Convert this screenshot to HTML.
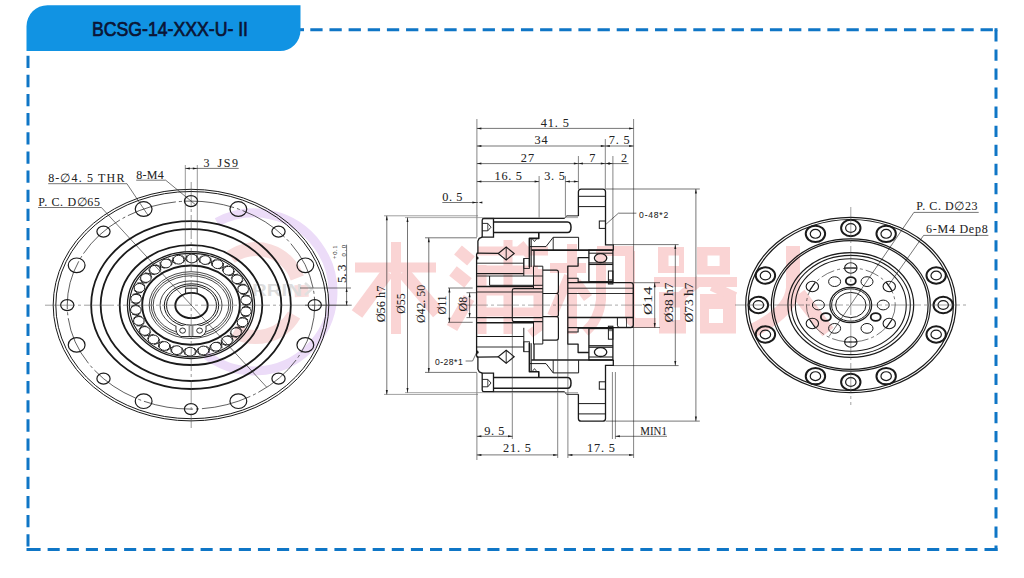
<!DOCTYPE html><html><head><meta charset="utf-8"><title>BCSG-14-XXX-U-II</title><style>html,body{margin:0;padding:0;background:#fff}body{width:1024px;height:578px;overflow:hidden;position:relative}svg{position:absolute;left:0;top:0;display:block}</style></head><body>
<svg width="1024" height="578" viewBox="0 0 1024 578">
<rect x="0" y="0" width="1024" height="578" fill="#ffffff"/>
<g stroke="#fad4d4" fill="none" stroke-linecap="butt" stroke-width="10">
<path d="M355 267.5 H436 M396 242 V334" stroke-width="10"/><path d="M388 272 L357 314 M403 272 L438 313" stroke-width="13"/>
<path d="M458 250 L471 261 M453 271 L468 283 M452 328 L469 298" stroke-width="12"/>
<path d="M478 251 H548 M482 265 V334 M538 269 V328 L530 334 M482 270 H538 M482 291 H538 M482 312 H538 M508 240 V334 M520 244 L530 256" stroke-width="9"/>
<path d="M550 268 H586 M572 244 V334 M569 276 L552 316 M576 282 L588 298" stroke-width="10"/>
<path d="M597 251 H634 M601 249 V300 Q599 320 585 332 M630 251 V316 Q630 323 638 323 H656" stroke-width="10"/>
</g>
<path fill="#fad4d4" fill-rule="evenodd" d="M658 247 H684 V273 H658 Z M668.5 255.6 V266 H679 V255.6 Z M697 247 H730 V274.6 H697 Z M707.5 255.6 V266 H719.6 V255.6 Z M659 292 H686 V333.4 H659 Z M669.6 307.5 V320 H680 V307.5 Z M700 294 H736 V333.4 H700 Z M709 309 V323 H723 V309 Z M654 277 H737 V287 H654 Z"/>
<g stroke="#fad4d4" fill="none" stroke-linecap="butt">
<path d="M700 280 L679 298 M712 286 L735 297" stroke-width="10"/>
<path d="M793 246 V288 Q791 312 752 331 M799 294 L828 332" stroke-width="14"/>
</g>
<path d="M216.9 222.2 A79 79 0 1 1 205.4 354.3" fill="none" stroke="#ecdcf8" stroke-width="9"/>
<path d="M230.8 257.0 A44 44 0 0 1 297.3 278.0 M301.3 285.0 L301.8 297.0 M294.1 315.0 A44 44 0 0 1 234.0 331.1" fill="none" stroke="#f8dcdc" stroke-width="14"/>
<text x="252" y="296" font-family="Liberation Sans" font-weight="bold" font-size="16" fill="#dcdcdc" textLength="50" lengthAdjust="spacingAndGlyphs">RRIN</text>
<path d="M305 283 L312 289 L305 295" fill="none" stroke="#e0e0e0" stroke-width="2.5"/>
<g stroke="#0f76c6" stroke-width="3" fill="none">
<line x1="310.3" y1="29.7" x2="997.5" y2="29.7" stroke-dasharray="12.3 6.85"/>
<line x1="996" y1="30.3" x2="996" y2="551" stroke-dasharray="11.3 7.78"/>
<line x1="28.5" y1="549.5" x2="997.5" y2="549.5" stroke-dasharray="12.1 7.02"/>
<line x1="28" y1="55.7" x2="28" y2="551" stroke-dasharray="12.3 6.84"/>
</g>
<rect x="300" y="28.2" width="4" height="3" fill="#0f76c6"/>
<rect x="994.5" y="28.2" width="3" height="3" fill="#0f76c6"/>
<rect x="994.5" y="548" width="3" height="3" fill="#0f76c6"/>
<rect x="26.5" y="548" width="3" height="3" fill="#0f76c6"/>
<path d="M26.5 51 V26.2 A21 21 0 0 1 47.5 5.2 H300.5 V30.5 A20.5 20.5 0 0 1 280 51 Z" fill="#1193e3"/>
<text x="92" y="35.8" font-family="Liberation Sans" font-size="20" fill="#0b1535" stroke="#0b1535" stroke-width="0.7" textLength="156" lengthAdjust="spacingAndGlyphs">BCSG-14-XXX-U- II</text>
<ellipse cx="191.00" cy="305.10" rx="137.80" ry="115.80" fill="none" stroke="#1a1a1a" stroke-width="1.0" />
<ellipse cx="191.00" cy="305.10" rx="135.18" ry="113.60" fill="none" stroke="#1a1a1a" stroke-width="1.0" />
<ellipse cx="191.00" cy="305.10" rx="123.76" ry="104.00" fill="none" stroke="#1a1a1a" stroke-width="0.7" stroke-dasharray="50 3 3 3"/>
<ellipse cx="191.00" cy="201.10" rx="6.60" ry="5.50" fill="none" stroke="#1a1a1a" stroke-width="1.2" />
<ellipse cx="143.64" cy="209.02" rx="8.40" ry="7.30" fill="none" stroke="#1a1a1a" stroke-width="1.2" />
<ellipse cx="103.49" cy="231.56" rx="6.60" ry="5.50" fill="none" stroke="#1a1a1a" stroke-width="1.2" />
<ellipse cx="76.66" cy="265.30" rx="8.40" ry="7.30" fill="none" stroke="#1a1a1a" stroke-width="1.2" />
<ellipse cx="67.24" cy="305.10" rx="6.60" ry="5.50" fill="none" stroke="#1a1a1a" stroke-width="1.2" />
<ellipse cx="76.66" cy="344.90" rx="8.40" ry="7.30" fill="none" stroke="#1a1a1a" stroke-width="1.2" />
<ellipse cx="103.49" cy="378.64" rx="6.60" ry="5.50" fill="none" stroke="#1a1a1a" stroke-width="1.2" />
<ellipse cx="143.64" cy="401.18" rx="8.40" ry="7.30" fill="none" stroke="#1a1a1a" stroke-width="1.2" />
<ellipse cx="191.00" cy="409.10" rx="6.60" ry="5.50" fill="none" stroke="#1a1a1a" stroke-width="1.2" />
<ellipse cx="238.36" cy="401.18" rx="8.40" ry="7.30" fill="none" stroke="#1a1a1a" stroke-width="1.2" />
<ellipse cx="278.51" cy="378.64" rx="6.60" ry="5.50" fill="none" stroke="#1a1a1a" stroke-width="1.2" />
<ellipse cx="305.34" cy="344.90" rx="8.40" ry="7.30" fill="none" stroke="#1a1a1a" stroke-width="1.2" />
<ellipse cx="314.76" cy="305.10" rx="6.60" ry="5.50" fill="none" stroke="#1a1a1a" stroke-width="1.2" />
<ellipse cx="305.34" cy="265.30" rx="8.40" ry="7.30" fill="none" stroke="#1a1a1a" stroke-width="1.2" />
<ellipse cx="278.51" cy="231.56" rx="6.60" ry="5.50" fill="none" stroke="#1a1a1a" stroke-width="1.2" />
<ellipse cx="238.36" cy="209.02" rx="8.40" ry="7.30" fill="none" stroke="#1a1a1a" stroke-width="1.2" />
<ellipse cx="191.00" cy="305.10" rx="99.84" ry="83.90" fill="none" stroke="#1a1a1a" stroke-width="1.8" />
<ellipse cx="191.00" cy="305.10" rx="90.32" ry="75.90" fill="none" stroke="#1a1a1a" stroke-width="1.8" />
<ellipse cx="191.00" cy="305.10" rx="71.28" ry="59.90" fill="none" stroke="#1a1a1a" stroke-width="1.8" />
<ellipse cx="191.00" cy="305.10" rx="63.55" ry="53.40" fill="none" stroke="#1a1a1a" stroke-width="1.3" />
<ellipse cx="191.00" cy="305.10" rx="61.52" ry="51.70" fill="none" stroke="#1a1a1a" stroke-width="1.1" />
<ellipse cx="246.15" cy="300.23" rx="5.30" ry="4.40" fill="none" stroke="#1a1a1a" stroke-width="1.0" />
<ellipse cx="243.16" cy="289.28" rx="5.30" ry="4.40" fill="none" stroke="#1a1a1a" stroke-width="1.0" />
<ellipse cx="237.14" cy="279.25" rx="5.30" ry="4.40" fill="none" stroke="#1a1a1a" stroke-width="1.0" />
<ellipse cx="228.44" cy="270.72" rx="5.30" ry="4.40" fill="none" stroke="#1a1a1a" stroke-width="1.0" />
<ellipse cx="217.56" cy="264.19" rx="5.30" ry="4.40" fill="none" stroke="#1a1a1a" stroke-width="1.0" />
<ellipse cx="205.14" cy="260.04" rx="5.30" ry="4.40" fill="none" stroke="#1a1a1a" stroke-width="1.0" />
<ellipse cx="191.89" cy="258.51" rx="5.30" ry="4.40" fill="none" stroke="#1a1a1a" stroke-width="1.0" />
<ellipse cx="178.60" cy="259.68" rx="5.30" ry="4.40" fill="none" stroke="#1a1a1a" stroke-width="1.0" />
<ellipse cx="166.02" cy="263.49" rx="5.30" ry="4.40" fill="none" stroke="#1a1a1a" stroke-width="1.0" />
<ellipse cx="154.90" cy="269.73" rx="5.30" ry="4.40" fill="none" stroke="#1a1a1a" stroke-width="1.0" />
<ellipse cx="145.88" cy="278.01" rx="5.30" ry="4.40" fill="none" stroke="#1a1a1a" stroke-width="1.0" />
<ellipse cx="139.47" cy="287.88" rx="5.30" ry="4.40" fill="none" stroke="#1a1a1a" stroke-width="1.0" />
<ellipse cx="136.07" cy="298.74" rx="5.30" ry="4.40" fill="none" stroke="#1a1a1a" stroke-width="1.0" />
<ellipse cx="135.85" cy="309.97" rx="5.30" ry="4.40" fill="none" stroke="#1a1a1a" stroke-width="1.0" />
<ellipse cx="138.84" cy="320.92" rx="5.30" ry="4.40" fill="none" stroke="#1a1a1a" stroke-width="1.0" />
<ellipse cx="144.86" cy="330.95" rx="5.30" ry="4.40" fill="none" stroke="#1a1a1a" stroke-width="1.0" />
<ellipse cx="153.56" cy="339.48" rx="5.30" ry="4.40" fill="none" stroke="#1a1a1a" stroke-width="1.0" />
<ellipse cx="164.44" cy="346.01" rx="5.30" ry="4.40" fill="none" stroke="#1a1a1a" stroke-width="1.0" />
<ellipse cx="176.86" cy="350.16" rx="5.30" ry="4.40" fill="none" stroke="#1a1a1a" stroke-width="1.0" />
<ellipse cx="190.11" cy="351.69" rx="5.30" ry="4.40" fill="none" stroke="#1a1a1a" stroke-width="1.0" />
<ellipse cx="203.40" cy="350.52" rx="5.30" ry="4.40" fill="none" stroke="#1a1a1a" stroke-width="1.0" />
<ellipse cx="215.98" cy="346.71" rx="5.30" ry="4.40" fill="none" stroke="#1a1a1a" stroke-width="1.0" />
<ellipse cx="227.10" cy="340.47" rx="5.30" ry="4.40" fill="none" stroke="#1a1a1a" stroke-width="1.0" />
<ellipse cx="236.12" cy="332.19" rx="5.30" ry="4.40" fill="none" stroke="#1a1a1a" stroke-width="1.0" />
<ellipse cx="242.53" cy="322.32" rx="5.30" ry="4.40" fill="none" stroke="#1a1a1a" stroke-width="1.0" />
<ellipse cx="245.93" cy="311.46" rx="5.30" ry="4.40" fill="none" stroke="#1a1a1a" stroke-width="1.0" />
<line x1="241.33" y1="297.32" x2="248.70" y2="291.72" stroke="#1a1a1a" stroke-width="0.9" />
<line x1="240.33" y1="293.66" x2="249.87" y2="296.00" stroke="#1a1a1a" stroke-width="0.9" />
<line x1="237.65" y1="287.43" x2="243.22" y2="280.51" stroke="#1a1a1a" stroke-width="0.9" />
<line x1="235.64" y1="284.08" x2="245.57" y2="284.43" stroke="#1a1a1a" stroke-width="0.9" />
<line x1="231.26" y1="278.56" x2="234.69" y2="270.72" stroke="#1a1a1a" stroke-width="0.9" />
<line x1="228.35" y1="275.71" x2="238.09" y2="274.05" stroke="#1a1a1a" stroke-width="0.9" />
<line x1="222.53" y1="271.23" x2="223.63" y2="262.93" stroke="#1a1a1a" stroke-width="0.9" />
<line x1="218.90" y1="269.05" x2="227.88" y2="265.48" stroke="#1a1a1a" stroke-width="0.9" />
<line x1="211.97" y1="265.88" x2="210.68" y2="257.60" stroke="#1a1a1a" stroke-width="0.9" />
<line x1="207.82" y1="264.49" x2="215.53" y2="259.22" stroke="#1a1a1a" stroke-width="0.9" />
<line x1="200.19" y1="262.80" x2="196.58" y2="255.02" stroke="#1a1a1a" stroke-width="0.9" />
<line x1="195.77" y1="262.29" x2="201.75" y2="255.62" stroke="#1a1a1a" stroke-width="0.9" />
<line x1="187.88" y1="262.18" x2="182.15" y2="255.35" stroke="#1a1a1a" stroke-width="0.9" />
<line x1="183.44" y1="262.57" x2="187.35" y2="254.89" stroke="#1a1a1a" stroke-width="0.9" />
<line x1="175.74" y1="264.06" x2="168.24" y2="258.58" stroke="#1a1a1a" stroke-width="0.9" />
<line x1="171.55" y1="265.33" x2="173.15" y2="257.09" stroke="#1a1a1a" stroke-width="0.9" />
<line x1="164.50" y1="268.32" x2="155.65" y2="264.51" stroke="#1a1a1a" stroke-width="0.9" />
<line x1="160.78" y1="270.40" x2="160.00" y2="262.07" stroke="#1a1a1a" stroke-width="0.9" />
<line x1="154.79" y1="274.71" x2="145.12" y2="272.79" stroke="#1a1a1a" stroke-width="0.9" />
<line x1="151.78" y1="277.48" x2="148.65" y2="269.56" stroke="#1a1a1a" stroke-width="0.9" />
<line x1="147.19" y1="282.88" x2="137.25" y2="282.96" stroke="#1a1a1a" stroke-width="0.9" />
<line x1="145.05" y1="286.17" x2="139.75" y2="279.11" stroke="#1a1a1a" stroke-width="0.9" />
<line x1="142.14" y1="292.33" x2="132.51" y2="294.41" stroke="#1a1a1a" stroke-width="0.9" />
<line x1="141.00" y1="295.96" x2="133.84" y2="290.17" stroke="#1a1a1a" stroke-width="0.9" />
<line x1="139.92" y1="302.53" x2="131.17" y2="306.48" stroke="#1a1a1a" stroke-width="0.9" />
<line x1="139.85" y1="306.28" x2="131.25" y2="302.10" stroke="#1a1a1a" stroke-width="0.9" />
<line x1="140.67" y1="312.88" x2="133.30" y2="318.48" stroke="#1a1a1a" stroke-width="0.9" />
<line x1="141.67" y1="316.54" x2="132.13" y2="314.20" stroke="#1a1a1a" stroke-width="0.9" />
<line x1="144.35" y1="322.77" x2="138.78" y2="329.69" stroke="#1a1a1a" stroke-width="0.9" />
<line x1="146.36" y1="326.12" x2="136.43" y2="325.77" stroke="#1a1a1a" stroke-width="0.9" />
<line x1="150.74" y1="331.64" x2="147.31" y2="339.48" stroke="#1a1a1a" stroke-width="0.9" />
<line x1="153.65" y1="334.49" x2="143.91" y2="336.15" stroke="#1a1a1a" stroke-width="0.9" />
<line x1="159.47" y1="338.97" x2="158.37" y2="347.27" stroke="#1a1a1a" stroke-width="0.9" />
<line x1="163.10" y1="341.15" x2="154.12" y2="344.72" stroke="#1a1a1a" stroke-width="0.9" />
<line x1="170.03" y1="344.32" x2="171.32" y2="352.60" stroke="#1a1a1a" stroke-width="0.9" />
<line x1="174.18" y1="345.71" x2="166.47" y2="350.98" stroke="#1a1a1a" stroke-width="0.9" />
<line x1="181.81" y1="347.40" x2="185.42" y2="355.18" stroke="#1a1a1a" stroke-width="0.9" />
<line x1="186.23" y1="347.91" x2="180.25" y2="354.58" stroke="#1a1a1a" stroke-width="0.9" />
<line x1="194.12" y1="348.02" x2="199.85" y2="354.85" stroke="#1a1a1a" stroke-width="0.9" />
<line x1="198.56" y1="347.63" x2="194.65" y2="355.31" stroke="#1a1a1a" stroke-width="0.9" />
<line x1="206.26" y1="346.14" x2="213.76" y2="351.62" stroke="#1a1a1a" stroke-width="0.9" />
<line x1="210.45" y1="344.87" x2="208.85" y2="353.11" stroke="#1a1a1a" stroke-width="0.9" />
<line x1="217.50" y1="341.88" x2="226.35" y2="345.69" stroke="#1a1a1a" stroke-width="0.9" />
<line x1="221.22" y1="339.80" x2="222.00" y2="348.13" stroke="#1a1a1a" stroke-width="0.9" />
<line x1="227.21" y1="335.49" x2="236.88" y2="337.41" stroke="#1a1a1a" stroke-width="0.9" />
<line x1="230.22" y1="332.72" x2="233.35" y2="340.64" stroke="#1a1a1a" stroke-width="0.9" />
<line x1="234.81" y1="327.32" x2="244.75" y2="327.24" stroke="#1a1a1a" stroke-width="0.9" />
<line x1="236.95" y1="324.03" x2="242.25" y2="331.09" stroke="#1a1a1a" stroke-width="0.9" />
<line x1="239.86" y1="317.87" x2="249.49" y2="315.79" stroke="#1a1a1a" stroke-width="0.9" />
<line x1="241.00" y1="314.24" x2="248.16" y2="320.03" stroke="#1a1a1a" stroke-width="0.9" />
<line x1="242.08" y1="307.67" x2="250.83" y2="303.72" stroke="#1a1a1a" stroke-width="0.9" />
<line x1="242.15" y1="303.92" x2="250.75" y2="308.10" stroke="#1a1a1a" stroke-width="0.9" />
<ellipse cx="191.00" cy="305.10" rx="48.80" ry="39.60" fill="none" stroke="#1a1a1a" stroke-width="1.9" />
<ellipse cx="191.00" cy="305.10" rx="41.80" ry="33.40" fill="none" stroke="#1a1a1a" stroke-width="0.8" />
<ellipse cx="191.00" cy="305.10" rx="39.80" ry="31.30" fill="none" stroke="#1a1a1a" stroke-width="0.8" />
<ellipse cx="191.00" cy="305.10" rx="37.80" ry="29.30" fill="none" stroke="#1a1a1a" stroke-width="0.8" />
<ellipse cx="191.00" cy="305.10" rx="31.00" ry="24.20" fill="none" stroke="#1a1a1a" stroke-width="0.8" />
<ellipse cx="191.50" cy="305.40" rx="27.20" ry="21.60" fill="none" stroke="#1a1a1a" stroke-width="1.0" />
<ellipse cx="191.50" cy="305.40" rx="25.00" ry="19.80" fill="none" stroke="#1a1a1a" stroke-width="1.0" />
<path d="M176 326 Q175 334 181 336.5 H201 Q207 334 206 326" fill="#fff" stroke="#1a1a1a" stroke-width="0.9"/>
<ellipse cx="182.60" cy="330.60" rx="2.90" ry="2.60" fill="none" stroke="#1a1a1a" stroke-width="0.9" />
<ellipse cx="199.60" cy="330.60" rx="2.90" ry="2.60" fill="none" stroke="#1a1a1a" stroke-width="0.9" />
<line x1="189.20" y1="326.00" x2="189.20" y2="336.50" stroke="#1a1a1a" stroke-width="0.7" />
<line x1="192.80" y1="326.00" x2="192.80" y2="336.50" stroke="#1a1a1a" stroke-width="0.7" />
<ellipse cx="191.50" cy="305.50" rx="16.20" ry="12.60" fill="none" stroke="#1a1a1a" stroke-width="1.9" />
<path d="M185.6 293.9 V288.2 H197.2 V293.9" fill="none" stroke="#1a1a1a" stroke-width="1"/>
<line x1="185.30" y1="165.00" x2="185.30" y2="292.00" stroke="#444" stroke-width="0.55" />
<line x1="197.30" y1="165.00" x2="197.30" y2="292.00" stroke="#444" stroke-width="0.55" />
<line x1="191.20" y1="182.00" x2="191.20" y2="428.00" stroke="#555" stroke-width="0.6" stroke-dasharray="24 3 3 3"/>
<line x1="45.00" y1="305.20" x2="352.00" y2="305.20" stroke="#555" stroke-width="0.55" stroke-dasharray="30 3 3 3"/>
<line x1="185.30" y1="168.40" x2="238.70" y2="168.40" stroke="#1a1a1a" stroke-width="0.6" />
<polygon points="185.30,168.40 189.80,167.40 189.80,169.40" fill="#1a1a1a"/>
<polygon points="197.30,168.40 192.80,169.40 192.80,167.40" fill="#1a1a1a"/>
<text x="203.5" y="166.5" font-family="Liberation Serif" font-size="12" fill="#222" text-anchor="start" textLength="6.5" lengthAdjust="spacing" stroke="#222" stroke-width="0.05">3</text>
<text x="217.5" y="166.5" font-family="Liberation Serif" font-size="12" fill="#222" text-anchor="start" textLength="20.5" lengthAdjust="spacing" stroke="#222" stroke-width="0.05">JS9</text>
<text x="136.2" y="178.6" font-family="Liberation Serif" font-size="12" fill="#222" text-anchor="start" textLength="27.6" lengthAdjust="spacing" stroke="#222" stroke-width="0.05">8-M4</text>
<line x1="136.20" y1="180.20" x2="165.70" y2="180.20" stroke="#1a1a1a" stroke-width="0.6" />
<line x1="165.70" y1="180.20" x2="196.10" y2="205.20" stroke="#1a1a1a" stroke-width="0.6" />
<text x="48.2" y="181.7" font-family="Liberation Serif" font-size="12" fill="#222" text-anchor="start" textLength="76.2" lengthAdjust="spacing" stroke="#222" stroke-width="0.05">8-∅4. 5  THR</text>
<line x1="48.20" y1="183.70" x2="126.90" y2="183.70" stroke="#1a1a1a" stroke-width="0.6" />
<line x1="126.90" y1="183.70" x2="148.50" y2="216.00" stroke="#1a1a1a" stroke-width="0.6" />
<text x="38.2" y="205.9" font-family="Liberation Serif" font-size="12" fill="#222" text-anchor="start" textLength="61.8" lengthAdjust="spacing" stroke="#222" stroke-width="0.05">P. C. D∅65</text>
<line x1="38.00" y1="207.50" x2="101.40" y2="207.50" stroke="#1a1a1a" stroke-width="0.6" />
<line x1="101.40" y1="207.50" x2="266.60" y2="387.10" stroke="#1a1a1a" stroke-width="0.6" />
<line x1="300.00" y1="288.00" x2="351.00" y2="288.00" stroke="#1a1a1a" stroke-width="0.6" />
<line x1="305.00" y1="305.20" x2="351.00" y2="305.20" stroke="#1a1a1a" stroke-width="0.6" />
<line x1="346.60" y1="244.70" x2="346.60" y2="305.20" stroke="#1a1a1a" stroke-width="0.6" />
<polygon points="346.60,288.00 347.60,292.00 345.60,292.00" fill="#1a1a1a"/>
<polygon points="346.60,305.20 345.60,301.20 347.60,301.20" fill="#1a1a1a"/>
<text x="345.5" y="283" font-family="Liberation Serif" font-size="13" fill="#222" text-anchor="start" textLength="18.5" lengthAdjust="spacing" transform="rotate(-90 345.5 283)" stroke="#222" stroke-width="0.05">5. 3</text>
<text x="337" y="259" font-family="Liberation Serif" font-size="6.5" fill="#222" text-anchor="start" textLength="13.5" lengthAdjust="spacing" transform="rotate(-90 337 259)" stroke="#222" stroke-width="0.05">+0.1</text>
<text x="345.8" y="256.5" font-family="Liberation Serif" font-size="6.5" fill="#222" text-anchor="start" textLength="11.5" lengthAdjust="spacing" transform="rotate(-90 345.8 256.5)" stroke="#222" stroke-width="0.05">0.0</text>
<ellipse cx="850.80" cy="305.00" rx="105.12" ry="87.60" fill="none" stroke="#1a1a1a" stroke-width="1.2" />
<ellipse cx="850.80" cy="305.00" rx="102.60" ry="85.50" fill="none" stroke="#1a1a1a" stroke-width="1.2" />
<ellipse cx="936.17" cy="334.47" rx="9.70" ry="8.20" fill="none" stroke="#1a1a1a" stroke-width="2.0" />
<ellipse cx="936.17" cy="334.47" rx="5.20" ry="4.40" fill="none" stroke="#1a1a1a" stroke-width="1.2" />
<ellipse cx="943.20" cy="305.00" rx="9.70" ry="8.20" fill="none" stroke="#1a1a1a" stroke-width="2.0" />
<ellipse cx="943.20" cy="305.00" rx="5.20" ry="4.40" fill="none" stroke="#1a1a1a" stroke-width="1.2" />
<ellipse cx="936.17" cy="275.53" rx="9.70" ry="8.20" fill="none" stroke="#1a1a1a" stroke-width="2.0" />
<ellipse cx="936.17" cy="275.53" rx="5.20" ry="4.40" fill="none" stroke="#1a1a1a" stroke-width="1.2" />
<ellipse cx="886.16" cy="233.86" rx="9.70" ry="8.20" fill="none" stroke="#1a1a1a" stroke-width="2.0" />
<ellipse cx="886.16" cy="233.86" rx="5.20" ry="4.40" fill="none" stroke="#1a1a1a" stroke-width="1.2" />
<ellipse cx="850.80" cy="228.00" rx="9.70" ry="8.20" fill="none" stroke="#1a1a1a" stroke-width="2.0" />
<ellipse cx="850.80" cy="228.00" rx="5.20" ry="4.40" fill="none" stroke="#1a1a1a" stroke-width="1.2" />
<ellipse cx="815.44" cy="233.86" rx="9.70" ry="8.20" fill="none" stroke="#1a1a1a" stroke-width="2.0" />
<ellipse cx="815.44" cy="233.86" rx="5.20" ry="4.40" fill="none" stroke="#1a1a1a" stroke-width="1.2" />
<ellipse cx="765.43" cy="275.53" rx="9.70" ry="8.20" fill="none" stroke="#1a1a1a" stroke-width="2.0" />
<ellipse cx="765.43" cy="275.53" rx="5.20" ry="4.40" fill="none" stroke="#1a1a1a" stroke-width="1.2" />
<ellipse cx="758.40" cy="305.00" rx="9.70" ry="8.20" fill="none" stroke="#1a1a1a" stroke-width="2.0" />
<ellipse cx="758.40" cy="305.00" rx="5.20" ry="4.40" fill="none" stroke="#1a1a1a" stroke-width="1.2" />
<ellipse cx="765.43" cy="334.47" rx="9.70" ry="8.20" fill="none" stroke="#1a1a1a" stroke-width="2.0" />
<ellipse cx="765.43" cy="334.47" rx="5.20" ry="4.40" fill="none" stroke="#1a1a1a" stroke-width="1.2" />
<ellipse cx="815.44" cy="376.14" rx="9.70" ry="8.20" fill="none" stroke="#1a1a1a" stroke-width="2.0" />
<ellipse cx="815.44" cy="376.14" rx="5.20" ry="4.40" fill="none" stroke="#1a1a1a" stroke-width="1.2" />
<ellipse cx="850.80" cy="382.00" rx="9.70" ry="8.20" fill="none" stroke="#1a1a1a" stroke-width="2.0" />
<ellipse cx="850.80" cy="382.00" rx="5.20" ry="4.40" fill="none" stroke="#1a1a1a" stroke-width="1.2" />
<ellipse cx="886.16" cy="376.14" rx="9.70" ry="8.20" fill="none" stroke="#1a1a1a" stroke-width="2.0" />
<ellipse cx="886.16" cy="376.14" rx="5.20" ry="4.40" fill="none" stroke="#1a1a1a" stroke-width="1.2" />
<ellipse cx="850.80" cy="305.00" rx="79.44" ry="66.20" fill="none" stroke="#1a1a1a" stroke-width="1.2" />
<ellipse cx="850.80" cy="305.00" rx="77.28" ry="64.40" fill="none" stroke="#1a1a1a" stroke-width="1.2" />
<ellipse cx="850.80" cy="305.00" rx="62.88" ry="52.40" fill="none" stroke="#1a1a1a" stroke-width="1.2" />
<ellipse cx="850.80" cy="305.00" rx="59.52" ry="49.60" fill="none" stroke="#1a1a1a" stroke-width="1.1" />
<ellipse cx="850.80" cy="305.00" rx="55.44" ry="46.20" fill="none" stroke="#1a1a1a" stroke-width="1.1" />
<ellipse cx="850.80" cy="305.00" rx="44.40" ry="37.00" fill="none" stroke="#1a1a1a" stroke-width="0.6" stroke-dasharray="14 3 3 3"/>
<ellipse cx="850.80" cy="268.00" rx="6.20" ry="5.20" fill="none" stroke="#1a1a1a" stroke-width="1.1" />
<line x1="856.80" y1="268.00" x2="844.80" y2="268.00" stroke="#1a1a1a" stroke-width="1.1" />
<ellipse cx="889.25" cy="286.50" rx="6.20" ry="5.20" fill="none" stroke="#1a1a1a" stroke-width="1.1" />
<line x1="892.25" y1="290.83" x2="886.25" y2="282.17" stroke="#1a1a1a" stroke-width="1.1" />
<ellipse cx="812.35" cy="286.50" rx="6.20" ry="5.20" fill="none" stroke="#1a1a1a" stroke-width="1.1" />
<line x1="815.35" y1="282.17" x2="809.35" y2="290.83" stroke="#1a1a1a" stroke-width="1.1" />
<ellipse cx="812.35" cy="323.50" rx="6.20" ry="5.20" fill="none" stroke="#1a1a1a" stroke-width="1.1" />
<line x1="809.35" y1="319.17" x2="815.35" y2="327.83" stroke="#1a1a1a" stroke-width="1.1" />
<ellipse cx="850.80" cy="342.00" rx="6.20" ry="5.20" fill="none" stroke="#1a1a1a" stroke-width="1.1" />
<line x1="844.80" y1="342.00" x2="856.80" y2="342.00" stroke="#1a1a1a" stroke-width="1.1" />
<ellipse cx="889.25" cy="323.50" rx="6.20" ry="5.20" fill="none" stroke="#1a1a1a" stroke-width="1.1" />
<line x1="886.25" y1="327.83" x2="892.25" y2="319.17" stroke="#1a1a1a" stroke-width="1.1" />
<ellipse cx="883.20" cy="305.00" rx="6.00" ry="4.90" fill="none" stroke="#1a1a1a" stroke-width="1.0" />
<ellipse cx="867.00" cy="281.62" rx="6.00" ry="4.90" fill="none" stroke="#1a1a1a" stroke-width="1.0" />
<ellipse cx="834.60" cy="281.62" rx="6.00" ry="4.90" fill="none" stroke="#1a1a1a" stroke-width="1.0" />
<ellipse cx="818.40" cy="305.00" rx="6.00" ry="4.90" fill="none" stroke="#1a1a1a" stroke-width="1.0" />
<ellipse cx="834.60" cy="328.38" rx="6.00" ry="4.90" fill="none" stroke="#1a1a1a" stroke-width="1.0" />
<ellipse cx="867.00" cy="328.38" rx="6.00" ry="4.90" fill="none" stroke="#1a1a1a" stroke-width="1.0" />
<ellipse cx="850.80" cy="281.00" rx="5.00" ry="3.90" fill="none" stroke="#1a1a1a" stroke-width="1.8" />
<ellipse cx="825.86" cy="317.00" rx="5.00" ry="3.90" fill="none" stroke="#1a1a1a" stroke-width="1.8" />
<ellipse cx="875.74" cy="317.00" rx="5.00" ry="3.90" fill="none" stroke="#1a1a1a" stroke-width="1.8" />
<ellipse cx="850.80" cy="305.00" rx="20.90" ry="17.60" fill="none" stroke="#1a1a1a" stroke-width="1.2" />
<ellipse cx="850.80" cy="305.00" rx="19.20" ry="16.20" fill="none" stroke="#1a1a1a" stroke-width="1.0" />
<ellipse cx="850.80" cy="305.00" rx="15.20" ry="12.60" fill="none" stroke="#1a1a1a" stroke-width="1.0" />
<line x1="735.00" y1="305.00" x2="968.00" y2="305.00" stroke="#555" stroke-width="0.55" stroke-dasharray="30 3 3 3"/>
<line x1="850.80" y1="207.00" x2="850.80" y2="405.00" stroke="#555" stroke-width="0.55" stroke-dasharray="30 3 3 3"/>
<text x="916.3" y="210.3" font-family="Liberation Serif" font-size="12" fill="#222" text-anchor="start" textLength="61.2" lengthAdjust="spacing" stroke="#222" stroke-width="0.05">P. C. D∅23</text>
<line x1="913.90" y1="212.40" x2="978.70" y2="212.40" stroke="#1a1a1a" stroke-width="0.6" />
<line x1="913.90" y1="212.40" x2="829.00" y2="336.50" stroke="#1a1a1a" stroke-width="0.6" />
<text x="926" y="233.3" font-family="Liberation Serif" font-size="12" fill="#222" text-anchor="start" textLength="61.7" lengthAdjust="spacing" stroke="#222" stroke-width="0.05">6-M4  Dep8</text>
<line x1="923.60" y1="235.40" x2="988.40" y2="235.40" stroke="#1a1a1a" stroke-width="0.6" />
<line x1="923.60" y1="235.40" x2="888.00" y2="286.00" stroke="#1a1a1a" stroke-width="0.6" />
<polyline points="482.20,237.10 479.20,238.40 477.90,241.00 477.90,253.00 476.60,254.20 476.60,305.10" fill="none" stroke="#1a1a1a" stroke-width="1.3" stroke-linejoin="round" />
<path d="M482.2 237.1 V220.3 Q482.2 218.5 484 218.5 H493.5 V237.1 Z" fill="none" stroke="#1a1a1a" stroke-width="1.3"/>
<polyline points="482.20,223.40 487.80,223.40 491.00,227.20 487.80,230.80 482.20,230.80" fill="none" stroke="#1a1a1a" stroke-width="0.9" stroke-linejoin="round" />
<line x1="487.80" y1="223.40" x2="487.80" y2="230.80" stroke="#1a1a1a" stroke-width="0.8" />
<path d="M493.5 222 H567.5 Q571 222 571 227.3 Q571 232.6 567.5 232.6 H493.5" fill="none" stroke="#1a1a1a" stroke-width="1.5"/>
<polyline points="493.50,218.50 564.50,218.50 566.50,215.90 578.40,215.90" fill="none" stroke="#1a1a1a" stroke-width="1.0" stroke-linejoin="round" />
<path d="M578.4 215.9 V191.8 Q578.4 189.1 581.2 189.1 H602.8 Q605.5 189.1 605.5 191.8 V244.8 H613.3 V250.2" fill="none" stroke="#1a1a1a" stroke-width="1.3"/>
<line x1="578.40" y1="196.30" x2="605.50" y2="196.30" stroke="#1a1a1a" stroke-width="1.0" />
<line x1="578.40" y1="206.60" x2="605.50" y2="206.60" stroke="#1a1a1a" stroke-width="1.0" />
<rect x="599.30" y="221.00" width="6.20" height="7.40" rx="0" fill="none" stroke="#1a1a1a" stroke-width="1.0"/>
<polyline points="538.80,232.60 538.80,238.40 529.40,238.40 529.40,267.30" fill="none" stroke="#1a1a1a" stroke-width="1.6" stroke-linejoin="round" />
<line x1="531.20" y1="239.00" x2="531.20" y2="267.00" stroke="#1a1a1a" stroke-width="1.0" />
<polyline points="532.00,238.40 534.50,241.60 537.00,238.40" fill="none" stroke="#1a1a1a" stroke-width="0.8" stroke-linejoin="round" />
<polyline points="529.40,246.60 546.00,246.60 553.20,237.30 578.60,237.30 578.60,250.00" fill="none" stroke="#1a1a1a" stroke-width="1.0" stroke-linejoin="round" />
<line x1="553.20" y1="237.30" x2="553.20" y2="250.00" stroke="#1a1a1a" stroke-width="0.9" />
<line x1="531.40" y1="250.20" x2="613.30" y2="250.20" stroke="#1a1a1a" stroke-width="1.7" />
<line x1="534.00" y1="250.20" x2="534.00" y2="266.30" stroke="#1a1a1a" stroke-width="1.3" />
<rect x="523.80" y="258.50" width="5.60" height="9.90" rx="0" fill="none" stroke="#1a1a1a" stroke-width="0.9"/>
<line x1="476.60" y1="253.10" x2="498.20" y2="253.30" stroke="#1a1a1a" stroke-width="1.3" />
<polygon points="498.2,253.5 506.2,247 514.2,253.5 506.2,260" fill="none" stroke="#1a1a1a" stroke-width="1.1"/>
<line x1="506.20" y1="247.00" x2="506.20" y2="260.00" stroke="#1a1a1a" stroke-width="0.9" />
<line x1="476.60" y1="263.20" x2="523.80" y2="263.20" stroke="#1a1a1a" stroke-width="0.9" />
<line x1="476.60" y1="273.70" x2="523.80" y2="273.70" stroke="#1a1a1a" stroke-width="1.3" />
<line x1="523.80" y1="258.50" x2="523.80" y2="276.00" stroke="#1a1a1a" stroke-width="1.0" />
<line x1="476.60" y1="276.00" x2="542.80" y2="276.00" stroke="#1a1a1a" stroke-width="0.9" />
<polyline points="489.60,276.00 489.60,285.30 542.80,285.30" fill="none" stroke="#1a1a1a" stroke-width="1.0" stroke-linejoin="round" />
<line x1="476.60" y1="286.60" x2="533.50" y2="286.60" stroke="#1a1a1a" stroke-width="1.5" />
<line x1="476.60" y1="292.00" x2="542.80" y2="292.00" stroke="#1a1a1a" stroke-width="0.9" />
<polyline points="533.50,288.80 533.50,266.20 542.80,266.20 542.80,305.10" fill="none" stroke="#1a1a1a" stroke-width="1.0" stroke-linejoin="round" />
<path d="M512.3 305.1 V290.3 Q512.3 288.6 514.3 288.6 H542.8" fill="none" stroke="#1a1a1a" stroke-width="1.1"/>
<path d="M542.8 270.1 H556.4 Q558.4 270.1 558.4 272.1 V291.5 Q558.4 293.5 556.4 293.5 H542.8 M542.8 293.5 H556.4 Q558.4 293.5 558.4 295.5 V305.1" fill="none" stroke="#1a1a1a" stroke-width="1.2"/>
<polyline points="567.80,305.10 567.80,266.10 578.10,266.10 578.10,257.70 588.90,257.70" fill="none" stroke="#1a1a1a" stroke-width="1.3" stroke-linejoin="round" />
<polyline points="567.80,278.20 578.10,278.20 578.10,281.90 588.90,281.90" fill="none" stroke="#1a1a1a" stroke-width="1.1" stroke-linejoin="round" />
<path d="M568 282.6 H630.8 Q633.3 282.6 633.3 285.1 V305.1" fill="none" stroke="#1a1a1a" stroke-width="1.4"/>
<line x1="568.00" y1="288.20" x2="633.30" y2="288.20" stroke="#1a1a1a" stroke-width="0.9" />
<line x1="568.00" y1="293.50" x2="633.30" y2="293.50" stroke="#1a1a1a" stroke-width="0.9" />
<rect x="588.90" y="250.20" width="24.00" height="31.50" rx="0" fill="none" stroke="#1a1a1a" stroke-width="1.3"/>
<line x1="588.90" y1="253.20" x2="612.90" y2="253.20" stroke="#1a1a1a" stroke-width="1.0" />
<line x1="588.90" y1="262.90" x2="612.90" y2="262.90" stroke="#1a1a1a" stroke-width="1.0" />
<line x1="588.90" y1="264.40" x2="612.90" y2="264.40" stroke="#1a1a1a" stroke-width="1.3" />
<ellipse cx="600.60" cy="258.10" rx="6.20" ry="4.40" fill="none" stroke="#1a1a1a" stroke-width="1.3" />
<rect x="608.40" y="271.00" width="4.50" height="13.00" rx="0" fill="none" stroke="#1a1a1a" stroke-width="1.0"/>
<rect x="608.6" y="279" width="4.2" height="5" fill="#1a1a1a" opacity="0.55"/>
<ellipse cx="477.30" cy="258.00" rx="1.30" ry="1.60" fill="#1a1a1a" stroke="#1a1a1a" stroke-width="0" />
<g transform="translate(0 610.2) scale(1 -1)">
<polyline points="482.20,237.10 479.20,238.40 477.90,241.00 477.90,253.00 476.60,254.20 476.60,305.10" fill="none" stroke="#1a1a1a" stroke-width="1.3" stroke-linejoin="round" />
<path d="M482.2 237.1 V220.3 Q482.2 218.5 484 218.5 H493.5 V237.1 Z" fill="none" stroke="#1a1a1a" stroke-width="1.3"/>
<polyline points="482.20,223.40 487.80,223.40 491.00,227.20 487.80,230.80 482.20,230.80" fill="none" stroke="#1a1a1a" stroke-width="0.9" stroke-linejoin="round" />
<line x1="487.80" y1="223.40" x2="487.80" y2="230.80" stroke="#1a1a1a" stroke-width="0.8" />
<path d="M493.5 222 H567.5 Q571 222 571 227.3 Q571 232.6 567.5 232.6 H493.5" fill="none" stroke="#1a1a1a" stroke-width="1.5"/>
<polyline points="493.50,218.50 564.50,218.50 566.50,215.90 578.40,215.90" fill="none" stroke="#1a1a1a" stroke-width="1.0" stroke-linejoin="round" />
<path d="M578.4 215.9 V191.8 Q578.4 189.1 581.2 189.1 H602.8 Q605.5 189.1 605.5 191.8 V244.8 H613.3 V250.2" fill="none" stroke="#1a1a1a" stroke-width="1.3"/>
<line x1="578.40" y1="196.30" x2="605.50" y2="196.30" stroke="#1a1a1a" stroke-width="1.0" />
<line x1="578.40" y1="206.60" x2="605.50" y2="206.60" stroke="#1a1a1a" stroke-width="1.0" />
<rect x="599.30" y="221.00" width="6.20" height="7.40" rx="0" fill="none" stroke="#1a1a1a" stroke-width="1.0"/>
<polyline points="538.80,232.60 538.80,238.40 529.40,238.40 529.40,267.30" fill="none" stroke="#1a1a1a" stroke-width="1.6" stroke-linejoin="round" />
<line x1="531.20" y1="239.00" x2="531.20" y2="267.00" stroke="#1a1a1a" stroke-width="1.0" />
<polyline points="532.00,238.40 534.50,241.60 537.00,238.40" fill="none" stroke="#1a1a1a" stroke-width="0.8" stroke-linejoin="round" />
<polyline points="529.40,246.60 546.00,246.60 553.20,237.30 578.60,237.30 578.60,250.00" fill="none" stroke="#1a1a1a" stroke-width="1.0" stroke-linejoin="round" />
<line x1="553.20" y1="237.30" x2="553.20" y2="250.00" stroke="#1a1a1a" stroke-width="0.9" />
<line x1="531.40" y1="250.20" x2="613.30" y2="250.20" stroke="#1a1a1a" stroke-width="1.7" />
<line x1="534.00" y1="250.20" x2="534.00" y2="266.30" stroke="#1a1a1a" stroke-width="1.3" />
<rect x="523.80" y="258.50" width="5.60" height="9.90" rx="0" fill="none" stroke="#1a1a1a" stroke-width="0.9"/>
<line x1="476.60" y1="253.10" x2="498.20" y2="253.30" stroke="#1a1a1a" stroke-width="1.3" />
<polygon points="498.2,253.5 506.2,247 514.2,253.5 506.2,260" fill="none" stroke="#1a1a1a" stroke-width="1.1"/>
<line x1="506.20" y1="247.00" x2="506.20" y2="260.00" stroke="#1a1a1a" stroke-width="0.9" />
<line x1="476.60" y1="263.20" x2="523.80" y2="263.20" stroke="#1a1a1a" stroke-width="0.9" />
<line x1="476.60" y1="273.70" x2="523.80" y2="273.70" stroke="#1a1a1a" stroke-width="1.0" />
<line x1="523.80" y1="258.50" x2="523.80" y2="282.40" stroke="#1a1a1a" stroke-width="1.0" />
<line x1="476.60" y1="287.50" x2="533.50" y2="287.50" stroke="#1a1a1a" stroke-width="1.5" />
<line x1="476.60" y1="292.60" x2="542.80" y2="292.60" stroke="#1a1a1a" stroke-width="1.2" />
<polyline points="533.50,288.80 533.50,266.20 542.80,266.20 542.80,305.10" fill="none" stroke="#1a1a1a" stroke-width="1.0" stroke-linejoin="round" />
<path d="M512.3 305.1 V290.3 Q512.3 288.6 514.3 288.6 H542.8" fill="none" stroke="#1a1a1a" stroke-width="1.1"/>
<path d="M542.8 270.1 H556.4 Q558.4 270.1 558.4 272.1 V291.5 Q558.4 293.5 556.4 293.5 H542.8 M542.8 293.5 H556.4 Q558.4 293.5 558.4 295.5 V305.1" fill="none" stroke="#1a1a1a" stroke-width="1.2"/>
<polyline points="567.80,305.10 567.80,266.10 578.10,266.10 578.10,257.70 588.90,257.70" fill="none" stroke="#1a1a1a" stroke-width="1.3" stroke-linejoin="round" />
<polyline points="567.80,278.20 578.10,278.20 578.10,281.90 588.90,281.90" fill="none" stroke="#1a1a1a" stroke-width="1.1" stroke-linejoin="round" />
<path d="M568 282.6 H630.8 Q633.3 282.6 633.3 285.1 V305.1" fill="none" stroke="#1a1a1a" stroke-width="1.4"/>
<line x1="568.00" y1="292.70" x2="633.30" y2="292.70" stroke="#1a1a1a" stroke-width="1.3" />
<path d="M633.3 282.9 H619.5 Q617.4 282.9 617.4 285 V292.7" fill="none" stroke="#1a1a1a" stroke-width="1.0"/>
<line x1="626.50" y1="283.00" x2="626.50" y2="292.70" stroke="#1a1a1a" stroke-width="0.8" />
<rect x="588.90" y="250.20" width="24.00" height="31.50" rx="0" fill="none" stroke="#1a1a1a" stroke-width="1.3"/>
<line x1="588.90" y1="253.20" x2="612.90" y2="253.20" stroke="#1a1a1a" stroke-width="1.0" />
<line x1="588.90" y1="262.90" x2="612.90" y2="262.90" stroke="#1a1a1a" stroke-width="1.0" />
<line x1="588.90" y1="264.40" x2="612.90" y2="264.40" stroke="#1a1a1a" stroke-width="1.3" />
<ellipse cx="600.60" cy="258.10" rx="6.20" ry="4.40" fill="none" stroke="#1a1a1a" stroke-width="1.3" />
<rect x="608.40" y="271.00" width="4.50" height="13.00" rx="0" fill="none" stroke="#1a1a1a" stroke-width="1.0"/>
<rect x="608.6" y="279" width="4.2" height="5" fill="#1a1a1a" opacity="0.55"/>
<ellipse cx="477.30" cy="258.00" rx="1.30" ry="1.60" fill="#1a1a1a" stroke="#1a1a1a" stroke-width="0" />
</g>
<line x1="466.00" y1="305.10" x2="642.00" y2="305.10" stroke="#555" stroke-width="0.5" stroke-dasharray="22 3 3 3"/>
<line x1="476.90" y1="119.00" x2="476.90" y2="237.00" stroke="#333" stroke-width="0.6" />
<line x1="633.60" y1="119.00" x2="633.60" y2="282.60" stroke="#333" stroke-width="0.6" />
<line x1="605.30" y1="139.00" x2="605.30" y2="189.00" stroke="#333" stroke-width="0.6" />
<line x1="578.40" y1="156.00" x2="578.40" y2="189.00" stroke="#333" stroke-width="0.6" />
<line x1="612.90" y1="156.00" x2="612.90" y2="244.80" stroke="#333" stroke-width="0.6" />
<line x1="539.10" y1="176.00" x2="539.10" y2="218.50" stroke="#333" stroke-width="0.6" />
<line x1="565.40" y1="176.00" x2="565.40" y2="215.90" stroke="#333" stroke-width="0.6" />
<line x1="476.90" y1="373.00" x2="476.90" y2="460.00" stroke="#333" stroke-width="0.6" />
<line x1="633.60" y1="327.00" x2="633.60" y2="458.00" stroke="#333" stroke-width="0.6" />
<line x1="512.30" y1="322.00" x2="512.30" y2="439.00" stroke="#333" stroke-width="0.6" />
<line x1="557.70" y1="340.00" x2="557.70" y2="458.00" stroke="#333" stroke-width="0.6" />
<line x1="567.90" y1="344.00" x2="567.90" y2="458.00" stroke="#333" stroke-width="0.6" />
<line x1="612.40" y1="372.00" x2="612.40" y2="439.00" stroke="#333" stroke-width="0.6" />
<line x1="615.40" y1="372.00" x2="615.40" y2="439.00" stroke="#333" stroke-width="0.6" />
<line x1="476.90" y1="128.40" x2="633.60" y2="128.40" stroke="#1a1a1a" stroke-width="0.6" />
<polygon points="476.90,128.40 481.40,127.40 481.40,129.40" fill="#1a1a1a"/>
<polygon points="633.60,128.40 629.10,129.40 629.10,127.40" fill="#1a1a1a"/>
<text x="540.7" y="126.6" font-family="Liberation Serif" font-size="12.3" fill="#222" text-anchor="start" textLength="28.1" lengthAdjust="spacing" stroke="#222" stroke-width="0.05">41. 5</text>
<line x1="476.90" y1="146.00" x2="605.30" y2="146.00" stroke="#1a1a1a" stroke-width="0.6" />
<polygon points="476.90,146.00 481.40,145.00 481.40,147.00" fill="#1a1a1a"/>
<polygon points="605.30,146.00 600.80,147.00 600.80,145.00" fill="#1a1a1a"/>
<text x="534.4" y="144.4" font-family="Liberation Serif" font-size="12.3" fill="#222" text-anchor="start" textLength="13.3" lengthAdjust="spacing" stroke="#222" stroke-width="0.05">34</text>
<line x1="605.30" y1="146.00" x2="633.60" y2="146.00" stroke="#1a1a1a" stroke-width="0.6" />
<polygon points="605.30,146.00 609.80,145.00 609.80,147.00" fill="#1a1a1a"/>
<polygon points="633.60,146.00 629.10,147.00 629.10,145.00" fill="#1a1a1a"/>
<text x="608.7" y="144.4" font-family="Liberation Serif" font-size="12.3" fill="#222" text-anchor="start" textLength="21" lengthAdjust="spacing" stroke="#222" stroke-width="0.05">7. 5</text>
<line x1="476.90" y1="163.60" x2="578.40" y2="163.60" stroke="#1a1a1a" stroke-width="0.6" />
<polygon points="476.90,163.60 481.40,162.60 481.40,164.60" fill="#1a1a1a"/>
<polygon points="578.40,163.60 573.90,164.60 573.90,162.60" fill="#1a1a1a"/>
<text x="520.8" y="162" font-family="Liberation Serif" font-size="12.3" fill="#222" text-anchor="start" textLength="13.3" lengthAdjust="spacing" stroke="#222" stroke-width="0.05">27</text>
<line x1="578.40" y1="163.60" x2="605.30" y2="163.60" stroke="#1a1a1a" stroke-width="0.6" />
<polygon points="578.40,163.60 582.90,162.60 582.90,164.60" fill="#1a1a1a"/>
<polygon points="605.30,163.60 600.80,164.60 600.80,162.60" fill="#1a1a1a"/>
<text x="589.2" y="162" font-family="Liberation Serif" font-size="12.3" fill="#222" text-anchor="start" textLength="6.1" lengthAdjust="spacing" stroke="#222" stroke-width="0.05">7</text>
<line x1="605.30" y1="163.60" x2="612.90" y2="163.60" stroke="#1a1a1a" stroke-width="0.6" />
<polygon points="605.30,163.60 609.80,162.60 609.80,164.60" fill="#1a1a1a"/>
<polygon points="612.90,163.60 608.40,164.60 608.40,162.60" fill="#1a1a1a"/>
<line x1="612.90" y1="163.60" x2="628.60" y2="163.60" stroke="#1a1a1a" stroke-width="0.6" />
<text x="621" y="162" font-family="Liberation Serif" font-size="12.3" fill="#222" text-anchor="start" textLength="7.1" lengthAdjust="spacing" stroke="#222" stroke-width="0.05">2</text>
<line x1="476.90" y1="181.60" x2="539.10" y2="181.60" stroke="#1a1a1a" stroke-width="0.6" />
<polygon points="476.90,181.60 481.40,180.60 481.40,182.60" fill="#1a1a1a"/>
<polygon points="539.10,181.60 534.60,182.60 534.60,180.60" fill="#1a1a1a"/>
<text x="494.5" y="180" font-family="Liberation Serif" font-size="12.3" fill="#222" text-anchor="start" textLength="27.5" lengthAdjust="spacing" stroke="#222" stroke-width="0.05">16. 5</text>
<line x1="565.40" y1="181.60" x2="578.40" y2="181.60" stroke="#1a1a1a" stroke-width="0.6" />
<polygon points="565.40,181.60 569.90,180.60 569.90,182.60" fill="#1a1a1a"/>
<polygon points="578.40,181.60 573.90,182.60 573.90,180.60" fill="#1a1a1a"/>
<text x="544.2" y="180" font-family="Liberation Serif" font-size="12.3" fill="#222" text-anchor="start" textLength="20.6" lengthAdjust="spacing" stroke="#222" stroke-width="0.05">3. 5</text>
<line x1="442.30" y1="202.50" x2="478.00" y2="202.50" stroke="#1a1a1a" stroke-width="0.6" />
<polygon points="476.90,202.50 472.40,203.50 472.40,201.50" fill="#1a1a1a"/>
<polygon points="478.40,202.50 482.40,201.50 482.40,203.50" fill="#1a1a1a"/>
<text x="442.3" y="200.6" font-family="Liberation Serif" font-size="12.3" fill="#222" text-anchor="start" textLength="20.1" lengthAdjust="spacing" stroke="#222" stroke-width="0.05">0. 5</text>
<line x1="476.90" y1="436.30" x2="512.50" y2="436.30" stroke="#1a1a1a" stroke-width="0.6" />
<polygon points="476.90,436.30 481.40,435.30 481.40,437.30" fill="#1a1a1a"/>
<polygon points="512.50,436.30 508.00,437.30 508.00,435.30" fill="#1a1a1a"/>
<text x="484.3" y="434.6" font-family="Liberation Serif" font-size="12.3" fill="#222" text-anchor="start" textLength="20" lengthAdjust="spacing" stroke="#222" stroke-width="0.05">9. 5</text>
<line x1="476.90" y1="454.90" x2="557.70" y2="454.90" stroke="#1a1a1a" stroke-width="0.6" />
<polygon points="476.90,454.90 481.40,453.90 481.40,455.90" fill="#1a1a1a"/>
<polygon points="557.70,454.90 553.20,455.90 553.20,453.90" fill="#1a1a1a"/>
<text x="503" y="452.3" font-family="Liberation Serif" font-size="12.3" fill="#222" text-anchor="start" textLength="28" lengthAdjust="spacing" stroke="#222" stroke-width="0.05">21. 5</text>
<line x1="567.90" y1="454.90" x2="633.60" y2="454.90" stroke="#1a1a1a" stroke-width="0.6" />
<polygon points="567.90,454.90 572.40,453.90 572.40,455.90" fill="#1a1a1a"/>
<polygon points="633.60,454.90 629.10,455.90 629.10,453.90" fill="#1a1a1a"/>
<text x="587" y="452.3" font-family="Liberation Serif" font-size="12.3" fill="#222" text-anchor="start" textLength="28" lengthAdjust="spacing" stroke="#222" stroke-width="0.05">17. 5</text>
<line x1="615.40" y1="436.30" x2="667.00" y2="436.30" stroke="#1a1a1a" stroke-width="0.6" />
<polygon points="615.40,436.30 619.90,435.30 619.90,437.30" fill="#1a1a1a"/>
<text x="640.2" y="434.6" font-family="Liberation Serif" font-size="11.5" fill="#222" text-anchor="start" textLength="26.7" lengthAdjust="spacingAndGlyphs" stroke="#222" stroke-width="0.05">MIN1</text>
<line x1="384.00" y1="215.80" x2="478.00" y2="215.80" stroke="#777" stroke-width="0.7" />
<line x1="405.00" y1="217.60" x2="578.00" y2="217.60" stroke="#888" stroke-width="0.7" />
<line x1="384.00" y1="394.40" x2="478.00" y2="394.40" stroke="#777" stroke-width="0.7" />
<line x1="405.00" y1="392.60" x2="578.00" y2="392.60" stroke="#888" stroke-width="0.7" />
<line x1="386.80" y1="215.80" x2="386.80" y2="394.40" stroke="#1a1a1a" stroke-width="0.6" />
<polygon points="386.80,215.80 387.80,220.30 385.80,220.30" fill="#1a1a1a"/>
<polygon points="386.80,394.40 385.80,389.90 387.80,389.90" fill="#1a1a1a"/>
<text x="384.79999999999995" y="304.0" font-family="Liberation Serif" font-size="13" fill="#222" text-anchor="middle" textLength="36.6" lengthAdjust="spacingAndGlyphs" transform="rotate(-90 384.79999999999995 304.0)" stroke="#222" stroke-width="0.05">Ø56  h7</text>
<line x1="407.50" y1="217.60" x2="407.50" y2="392.60" stroke="#1a1a1a" stroke-width="0.6" />
<polygon points="407.50,217.60 408.50,222.10 406.50,222.10" fill="#1a1a1a"/>
<polygon points="407.50,392.60 406.50,388.10 408.50,388.10" fill="#1a1a1a"/>
<text x="405.0" y="303.6" font-family="Liberation Serif" font-size="13" fill="#222" text-anchor="middle" textLength="20.2" lengthAdjust="spacingAndGlyphs" transform="rotate(-90 405.0 303.6)" stroke="#222" stroke-width="0.05">Ø55</text>
<line x1="425.00" y1="237.80" x2="477.00" y2="237.80" stroke="#1a1a1a" stroke-width="0.6" />
<line x1="425.00" y1="372.40" x2="477.00" y2="372.40" stroke="#1a1a1a" stroke-width="0.6" />
<line x1="428.80" y1="237.80" x2="428.80" y2="372.40" stroke="#1a1a1a" stroke-width="0.6" />
<polygon points="428.80,237.80 429.80,242.30 427.80,242.30" fill="#1a1a1a"/>
<polygon points="428.80,372.40 427.80,367.90 429.80,367.90" fill="#1a1a1a"/>
<text x="425.29999999999995" y="304.0" font-family="Liberation Serif" font-size="13" fill="#222" text-anchor="middle" textLength="38.1" lengthAdjust="spacingAndGlyphs" transform="rotate(-90 425.29999999999995 304.0)" stroke="#222" stroke-width="0.05">Ø42. 50</text>
<line x1="448.00" y1="288.00" x2="472.70" y2="288.00" stroke="#1a1a1a" stroke-width="0.6" />
<line x1="448.00" y1="322.30" x2="472.70" y2="322.30" stroke="#1a1a1a" stroke-width="0.6" />
<line x1="449.40" y1="288.00" x2="449.40" y2="322.30" stroke="#1a1a1a" stroke-width="0.6" />
<polygon points="449.40,288.00 450.40,292.50 448.40,292.50" fill="#1a1a1a"/>
<polygon points="449.40,322.30 448.40,317.80 450.40,317.80" fill="#1a1a1a"/>
<text x="446.29999999999995" y="305.1" font-family="Liberation Serif" font-size="13" fill="#222" text-anchor="middle" textLength="18.7" lengthAdjust="spacingAndGlyphs" transform="rotate(-90 446.29999999999995 305.1)" stroke="#222" stroke-width="0.05">Ø11</text>
<line x1="466.50" y1="292.70" x2="477.00" y2="292.70" stroke="#1a1a1a" stroke-width="0.6" />
<line x1="466.50" y1="317.60" x2="477.00" y2="317.60" stroke="#1a1a1a" stroke-width="0.6" />
<line x1="469.60" y1="292.70" x2="469.60" y2="317.60" stroke="#1a1a1a" stroke-width="0.6" />
<polygon points="469.60,292.70 470.60,297.20 468.60,297.20" fill="#1a1a1a"/>
<polygon points="469.60,317.60 468.60,313.10 470.60,313.10" fill="#1a1a1a"/>
<text x="467.29999999999995" y="304.0" font-family="Liberation Serif" font-size="13" fill="#222" text-anchor="middle" textLength="14.8" lengthAdjust="spacingAndGlyphs" transform="rotate(-90 467.29999999999995 304.0)" stroke="#222" stroke-width="0.05">Ø8</text>
<line x1="633.30" y1="282.70" x2="660.00" y2="282.70" stroke="#1a1a1a" stroke-width="0.6" />
<line x1="633.30" y1="327.50" x2="660.00" y2="327.50" stroke="#1a1a1a" stroke-width="0.6" />
<line x1="654.70" y1="282.70" x2="654.70" y2="327.50" stroke="#1a1a1a" stroke-width="0.6" />
<polygon points="654.70,282.70 655.70,287.20 653.70,287.20" fill="#1a1a1a"/>
<polygon points="654.70,327.50 653.70,323.00 655.70,323.00" fill="#1a1a1a"/>
<text x="651.6999999999999" y="300.8" font-family="Liberation Serif" font-size="13" fill="#222" text-anchor="middle" textLength="28.4" lengthAdjust="spacingAndGlyphs" transform="rotate(-90 651.6999999999999 300.8)" stroke="#222" stroke-width="0.05">Ø14</text>
<line x1="613.30" y1="244.60" x2="678.60" y2="244.60" stroke="#1a1a1a" stroke-width="0.6" />
<line x1="613.30" y1="365.60" x2="678.60" y2="365.60" stroke="#1a1a1a" stroke-width="0.6" />
<line x1="675.30" y1="244.60" x2="675.30" y2="365.60" stroke="#1a1a1a" stroke-width="0.6" />
<polygon points="675.30,244.60 676.30,249.10 674.30,249.10" fill="#1a1a1a"/>
<polygon points="675.30,365.60 674.30,361.10 676.30,361.10" fill="#1a1a1a"/>
<text x="672.5" y="302.5" font-family="Liberation Serif" font-size="13" fill="#222" text-anchor="middle" textLength="40" lengthAdjust="spacingAndGlyphs" transform="rotate(-90 672.5 302.5)" stroke="#222" stroke-width="0.05">Ø38  h7</text>
<line x1="605.50" y1="189.00" x2="699.80" y2="189.00" stroke="#1a1a1a" stroke-width="0.6" />
<line x1="605.50" y1="421.10" x2="699.80" y2="421.10" stroke="#1a1a1a" stroke-width="0.6" />
<line x1="695.90" y1="189.00" x2="695.90" y2="421.10" stroke="#1a1a1a" stroke-width="0.6" />
<polygon points="695.90,189.00 696.90,193.50 694.90,193.50" fill="#1a1a1a"/>
<polygon points="695.90,421.10 694.90,416.60 696.90,416.60" fill="#1a1a1a"/>
<text x="693.1999999999999" y="302.5" font-family="Liberation Serif" font-size="13" fill="#222" text-anchor="middle" textLength="40" lengthAdjust="spacingAndGlyphs" transform="rotate(-90 693.1999999999999 302.5)" stroke="#222" stroke-width="0.05">Ø73  h7</text>
<line x1="605.90" y1="224.30" x2="618.40" y2="213.20" stroke="#1a1a1a" stroke-width="0.6" />
<line x1="618.40" y1="213.20" x2="636.40" y2="213.20" stroke="#1a1a1a" stroke-width="0.6" />
<text x="639.1" y="217.6" font-family="Liberation Sans" font-size="8.6" fill="#222" text-anchor="start" textLength="29.1" lengthAdjust="spacing" stroke="#222" stroke-width="0.05">0-48*2</text>
<line x1="476.90" y1="352.00" x2="472.60" y2="361.00" stroke="#1a1a1a" stroke-width="0.6" />
<line x1="472.60" y1="361.00" x2="465.60" y2="361.00" stroke="#1a1a1a" stroke-width="0.6" />
<text x="435" y="364.6" font-family="Liberation Sans" font-size="8.6" fill="#222" text-anchor="start" textLength="27.7" lengthAdjust="spacing" stroke="#222" stroke-width="0.05">0-28*1</text>
</svg></body></html>
